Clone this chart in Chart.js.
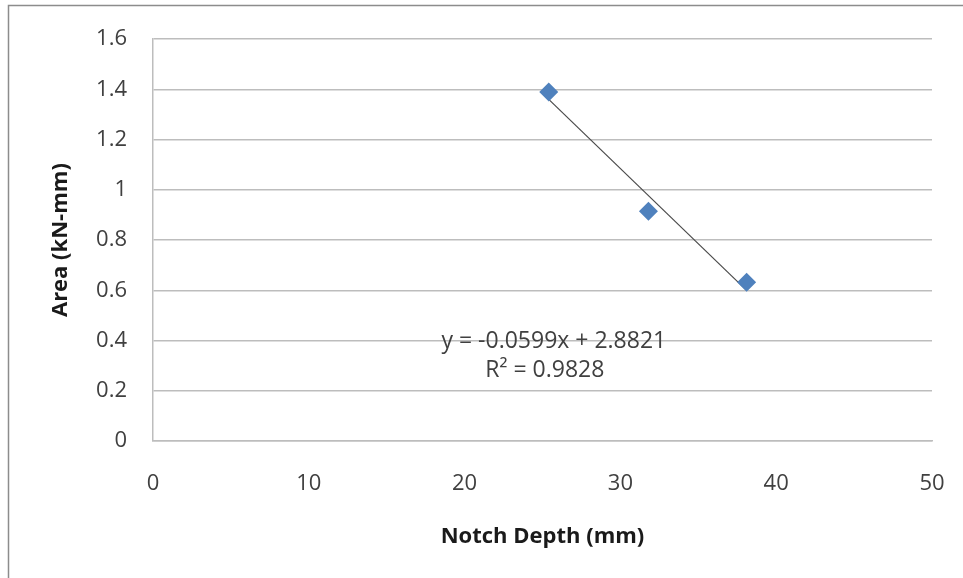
<!DOCTYPE html>
<html>
<head>
<meta charset="utf-8">
<script src="https://cdn.jsdelivr.net/npm/chart.js@4"></script>
<style>
  body { margin: 0; background: #fff; }
  canvas { display: block; }
</style>
</head>
<body>
<canvas id="myChart" width="963" height="578"></canvas>
<script>
// Notch depth (mm) vs area (kN-mm)
const notchDepth = [25.4, 31.8, 38.1];
const area = [1.39, 0.915, 0.632];

// Excel linear trendline as printed on the chart
const trendSlope = -0.0599;
const trendIntercept = 2.8821;
const trendLabel = ["y = -0.0599x + 2.8821", "R\u00b2 = 0.9828"];
const trendLabelPos = [25.6, 0.395];

const xTicks = [0, 10, 20, 30, 40, 50];
const yTicks = [0, 0.2, 0.4, 0.6, 0.8, 1, 1.2, 1.4, 1.6];

const points = notchDepth.map((x, i) => ({ x: x, y: area[i] }));

// trendline runs from first to last x
const xMin = Math.min(...notchDepth);
const xMax = Math.max(...notchDepth);
const trendPoints = [
    { x: xMin, y: trendSlope * xMin + trendIntercept },
    { x: xMax, y: trendSlope * xMax + trendIntercept },
];

const fontFamily = "'Open Sans', Lato, sans-serif";
const gridColor = "#bdbdbd";

// frame lines + trendline label
const framePlugin = {
    id: "frame",
    beforeDraw(chart) {
        const ctx = chart.ctx;
        ctx.save();
        ctx.fillStyle = "#fff";
        ctx.fillRect(0, 0, chart.width, chart.height);
        ctx.strokeStyle = "#8c8c8c";
        ctx.lineWidth = 1.5;
        ctx.beginPath();
        ctx.moveTo(8.5, chart.height);
        ctx.lineTo(8.5, 5.5);
        ctx.lineTo(chart.width, 5.5);
        ctx.stroke();
        ctx.restore();
    },
    afterDatasetsDraw(chart) {
        const ctx = chart.ctx;
        const xs = chart.scales.x;
        const ys = chart.scales.y;
        const cx = xs.getPixelForValue(trendLabelPos[0]);
        const cy = ys.getPixelForValue(trendLabelPos[1]);
        ctx.save();
        ctx.font = "23px " + fontFamily;
        ctx.fillStyle = "#404040";
        ctx.textAlign = "center";
        ctx.textBaseline = "middle";
        ctx.fillText(trendLabel[0], cx + 2, cy);
        ctx.fillText(trendLabel[1], cx - 7, cy + 29);
        ctx.restore();
    },
};

const tickText = (v) => String(+v.toFixed(1));

const myChart = new Chart("myChart", {
    type: "scatter",
    data: {
        datasets: [
            {
                label: "Area",
                data: points,
                pointStyle: "rectRot",
                pointRadius: 9.5,
                pointHoverRadius: 9.5,
                backgroundColor: "#4f81bd",
                borderColor: "#4f81bd",
                borderWidth: 0,
                order: 1,
            },
            {
                label: "Linear (Area)",
                type: "line",
                data: trendPoints,
                borderColor: "#4a4a4a",
                borderWidth: 1.2,
                pointRadius: 0,
                fill: false,
                order: 2,
            },
        ],
    },
    options: {
        responsive: false,
        animation: false,
        devicePixelRatio: 1,
        layout: {
            padding: { left: 10, top: 36, right: 31, bottom: 0 },
        },
        plugins: {
            legend: { display: false },
            tooltip: { enabled: false },
        },
        scales: {
            x: {
                type: "linear",
                min: 0,
                max: 50,
                afterBuildTicks(scale) {
                    scale.ticks = xTicks.map((v) => ({ value: v }));
                },
                afterFit(scale) {
                    scale.height = 137;
                },
                // invisible ticks just to push labels down
                grid: { color: "rgba(0,0,0,0)", drawTicks: true, tickLength: 13 },
                border: { color: gridColor, width: 1.5 },
                ticks: {
                    padding: 17,
                    color: "#404040",
                    font: { family: fontFamily, size: 22 },
                    callback: tickText,
                },
                title: {
                    display: true,
                    text: "Notch Depth (mm)",
                    color: "#1a1a1a",
                    padding: { top: 0, bottom: 28 },
                    font: { family: fontFamily, size: 22, weight: "bold" },
                },
            },
            y: {
                type: "linear",
                min: 0,
                max: 1.6,
                afterBuildTicks(scale) {
                    scale.ticks = yTicks.map((v) => ({ value: v }));
                },
                afterFit(scale) {
                    scale.width = 143;
                },
                grid: { color: gridColor, lineWidth: 1.5, drawTicks: false },
                border: { color: gridColor, width: 1.5 },
                ticks: {
                    padding: 26,
                    color: "#404040",
                    font: { family: fontFamily, size: 22 },
                    callback: tickText,
                },
                title: {
                    display: true,
                    text: "Area (kN-mm)",
                    color: "#1a1a1a",
                    padding: { top: 38, bottom: 0 },
                    font: { family: fontFamily, size: 22, weight: "bold" },
                },
            },
        },
    },
    plugins: [framePlugin],
});
</script>
</body>
</html>
